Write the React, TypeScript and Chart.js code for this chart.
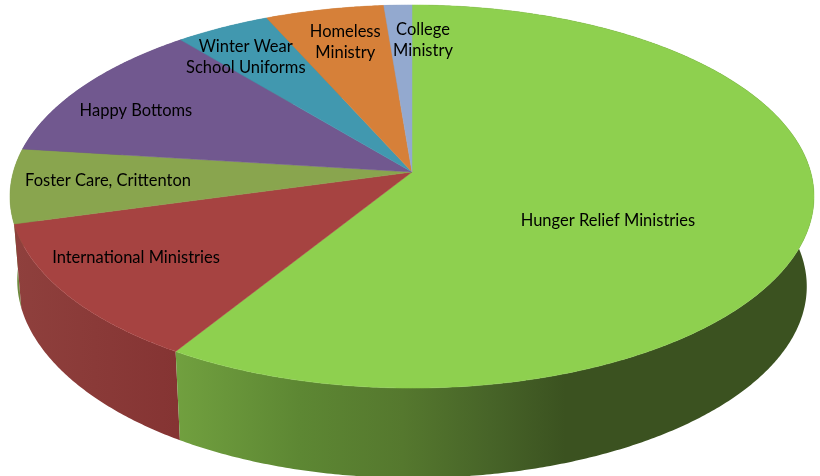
import React, { useEffect, useRef } from "react";
import { Chart, registerables } from "chart.js";

Chart.register(...registerables);

const categories: (string | string[])[] = [
  "Hunger Relief Ministries",
  "International Ministries",
  "Foster Care, Crittenton",
  "Happy Bottoms",
  ["Winter Wear", "School Uniforms"],
  ["Homeless", "Ministry"],
  ["College", "Ministry"],
];
const shares = [58.86, 11.85, 6.27, 12.02, 4.33, 5.4, 1.27];
const topColors = ["#8ED04F", "#A64341", "#89A54E", "#71588F", "#4198AF", "#D68039", "#93A9CF"];
// side wall colours: [x position, colour] stops across the canvas
const sideStops: [number, string][][] = [
  [[176, "#71A03F"], [300, "#5D8733"], [403, "#55782E"], [490, "#476428"], [565, "#3B5220"], [820, "#3B5220"]],
  [[14, "#8F403D"], [176, "#853433"]],
  [[10, "#6F8A3F"], [30, "#6F8A3F"]],
  [[10, "#5A4673"], [200, "#5A4673"]],
  [[180, "#337A8C"], [270, "#337A8C"]],
  [[270, "#AD6A2F"], [385, "#AD6A2F"]],
  [[385, "#7587A6"], [412, "#7587A6"]],
];
// label placement: angle shift from slice middle (degrees), fraction of radius
const labelAngleShift = [11.45, 3.7, 1.0, -3.4, -2.3, 0.7, 4.53];
const labelRadius = [0.536, 0.781, 0.7595, 0.8, 0.807, 0.782, 0.7735];

// perspective of the disc
const APEX_X = 412;
const APEX_Y = 172;
const RX = 398.7;
const RY = 188.4;
const P = -0.128;
const project = (theta: number, r = 1): [number, number] => {
  const u = r * Math.sin(theta);
  const v = -r * Math.cos(theta);
  const w = 1 + P * v;
  return [APEX_X + (RX * u) / w, APEX_Y + (RY * v) / w];
};
const lower = ([x, y]: [number, number]): [number, number] => [
  APEX_X + (x - APEX_X) * 0.982,
  y + 90 - 6 * Math.pow((820 - x) / 806, 7),
];

const pie3d = {
  id: "pie3d",
  beforeDatasetsDraw(chart: any) {
    const ctx: CanvasRenderingContext2D = chart.ctx;
    const arcs = chart.getDatasetMeta(0).data;
    const STEP = Math.PI / 360;
    const rim = (a: any) => {
      const from = a.startAngle + Math.PI / 2;
      const to = a.endAngle + Math.PI / 2;
      const pts: [number, number][] = [];
      const n = Math.max(2, Math.ceil((to - from) / STEP));
      for (let i = 0; i <= n; i++) pts.push(project(from + ((to - from) * i) / n));
      return pts;
    };
    // side walls: back slices first
    [6, 5, 4, 3, 2, 1, 0].forEach((i) => {
      const pts = rim(arcs[i]);
      const stops = sideStops[i];
      const x0 = stops[0][0];
      const x1 = stops[stops.length - 1][0];
      const g = ctx.createLinearGradient(x0, 0, x1, 0);
      stops.forEach(([x, c]) => g.addColorStop((x - x0) / (x1 - x0), c));
      ctx.beginPath();
      pts.forEach(([x, y], k) => (k ? ctx.lineTo(x, y) : ctx.moveTo(x, y)));
      [...pts].reverse().forEach((p) => {
        const [x, y] = lower(p);
        ctx.lineTo(x, y);
      });
      ctx.closePath();
      ctx.fillStyle = g;
      ctx.fill();
    });
    // top faces
    arcs.forEach((a: any, i: number) => {
      ctx.beginPath();
      ctx.moveTo(APEX_X, APEX_Y);
      rim(a).forEach(([x, y]) => ctx.lineTo(x, y));
      ctx.closePath();
      ctx.fillStyle = topColors[i];
      ctx.strokeStyle = topColors[i];
      ctx.lineWidth = 0.5;
      ctx.fill();
      ctx.stroke();
    });
    return false;
  },
  afterDraw(chart: any) {
    const ctx: CanvasRenderingContext2D = chart.ctx;
    const arcs = chart.getDatasetMeta(0).data;
    ctx.save();
    ctx.fillStyle = "#000";
    ctx.font = "16.5px Lato";
    ctx.textAlign = "center";
    ctx.textBaseline = "middle";
    arcs.forEach((a: any, i: number) => {
      const mid = (a.startAngle + a.endAngle) / 2 + Math.PI / 2;
      const [x, y] = project(mid + (labelAngleShift[i] * Math.PI) / 180, labelRadius[i]);
      const raw = chart.data.labels[i];
      const lines: string[] = Array.isArray(raw) ? raw : [raw];
      lines.forEach((t, k) => ctx.fillText(t, x, y + 1 + (k - (lines.length - 1) / 2) * 21));
    });
    ctx.restore();
  },
};

export default function App() {
  const ref = useRef<HTMLCanvasElement>(null);
  useEffect(() => {
    const chart = new Chart(ref.current!, {
      type: "pie",
      data: {
        labels: categories as any,
        datasets: [{ data: shares, backgroundColor: topColors, borderWidth: 0 }],
      },
      options: {
        animation: false,
        responsive: false,
        plugins: { legend: { display: false }, tooltip: { enabled: false } },
      },
      plugins: [pie3d as any],
    });
    return () => chart.destroy();
  }, []);
  return (
    <canvas
      ref={ref}
      width={820}
      height={476}
      style={{ position: "fixed", left: 0, top: 0, width: 820, height: 476, background: "#fff" }}
    />
  );
}
